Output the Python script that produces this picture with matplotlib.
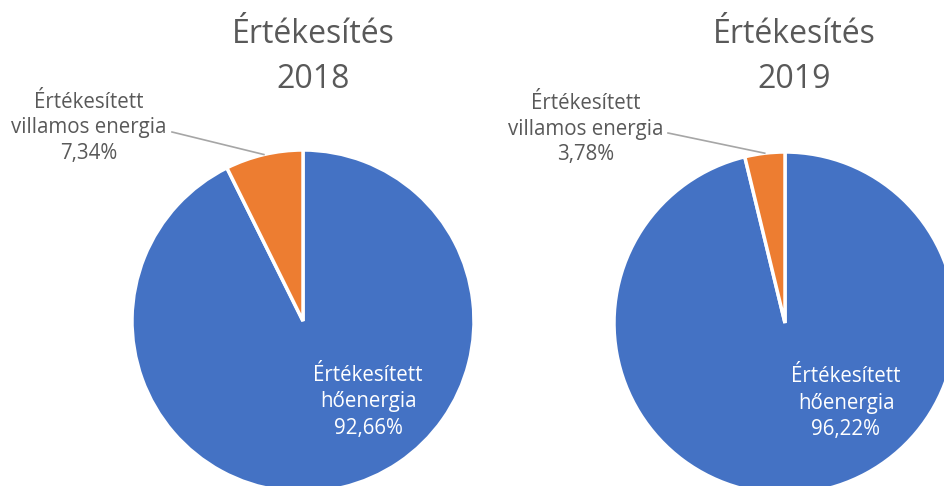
import numpy as np
import matplotlib.pyplot as plt

# data
years = ['2018', '2019']
categories = ['Értékesített\nhőenergia', 'Értékesített\nvillamos energia']
values_2018 = [92.66, 7.34]
values_2019 = [96.22, 3.78]
colors = ['#4472C4', '#ED7D31']

W, H = 944, 486
fig = plt.figure(figsize=(W / 100, H / 100), dpi=100)
ax = fig.add_axes([0, 0, 1, 1])

font = 'Open Sans'
grey = '#595959'


def fmt(v):
    return f'{v:.2f}'.replace('.', ',') + '%'


# layout in pixel coords (y measured from top)
layout = [
    dict(center=(303, 321), title_x=313, small_lbl=(89, 128), leader_start=(172, 132), big_lbl=(368, 402)),
    dict(center=(785, 323), title_x=794, small_lbl=(586, 129), leader_start=(668, 133), big_lbl=(846, 403)),
]
radius = 171

for year, vals, lay in zip(years, [values_2018, values_2019], layout):
    cx, cy = lay['center']
    wedges, _ = ax.pie(vals, colors=colors, startangle=90, counterclock=False,
                       center=(cx, H - cy), radius=radius,
                       wedgeprops=dict(edgecolor='white', linewidth=2.5), frame=True)
    ax.text(lay['title_x'], H - 57, f'Értékesítés\n{year}', ha='center', va='center',
            fontsize=23, color=grey, family=font, linespacing=1.45)

    # small slice label with leader line
    w = wedges[1]
    mid = np.deg2rad((w.theta1 + w.theta2) / 2)
    ex = cx + radius * np.cos(mid)
    ey = (H - cy) + radius * np.sin(mid)
    sx, sy = lay['leader_start']
    ax.plot([sx, ex], [H - sy, ey], color='#A6A6A6', lw=1.2)
    ax.text(lay['small_lbl'][0], H - lay['small_lbl'][1],
            f'{categories[1]}\n{fmt(vals[1])}', ha='center', va='center',
            fontsize=14.8, color=grey, family=font, linespacing=1.3)

    # big slice label
    ax.text(lay['big_lbl'][0], H - lay['big_lbl'][1],
            f'{categories[0]}\n{fmt(vals[0])}', ha='center', va='center',
            fontsize=14.8, color='white', family=font, linespacing=1.35)

ax.set_xlim(0, W)
ax.set_ylim(0, H)
ax.set_aspect('equal')
ax.axis('off')

fig.savefig('out.png', dpi=100, facecolor='white')
